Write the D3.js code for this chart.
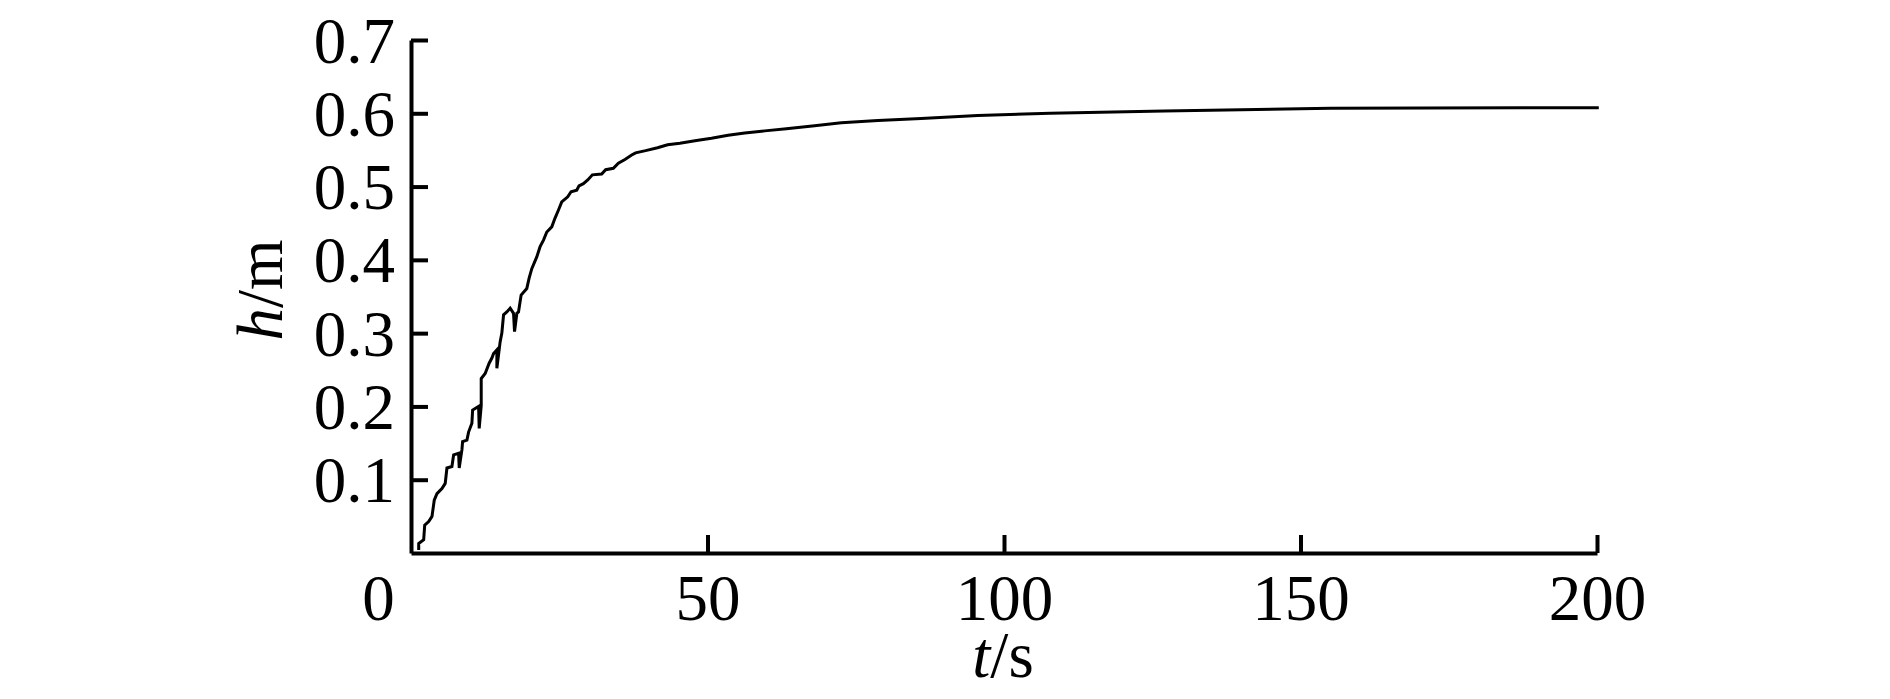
<!DOCTYPE html>
<html lang="en">
<title>h vs t</title>
<head>
<meta charset="utf-8">
</head>
<body style="margin:0;background:white;">
<script src="https://d3js.org/d3.v7.min.js"></script>

<div id="viz">
    <svg style="width:1890px;height:699px;display:block;"></svg>
</div>
<script>

    // time (s)
    var tValues = [1.30, 1.30, 2.14, 2.31, 2.98, 3.54, 3.92, 4.38, 5.22, 5.77, 6.06, 6.90, 7.19, 8.03, 8.13,
        8.59, 8.70, 9.43, 9.71, 10.27, 10.39, 11.40, 11.50, 11.84, 11.84, 12.51, 13.18, 13.64, 13.92, 14.48,
        14.48, 15.03, 15.32, 15.61, 16.16, 16.72, 17.29, 17.46, 17.85, 18.13, 18.57, 19.53, 19.92, 20.37,
        21.21, 21.77, 22.34, 22.90, 23.74, 24.29, 24.87, 25.42, 26.43, 26.99, 27.95, 28.33, 29.07, 29.80,
        30.59, 32.15, 32.83, 34.12, 34.97, 36.08, 37.21, 37.88, 39.56, 41.58, 43.27, 45.34, 48.15, 50.67,
        53.48, 56.28, 59.65, 63.30, 68.06, 72.56, 78.74, 86.03, 95.57, 107.8, 127.0, 155.1, 187.3, 200.3];

    // water level h (m)
    var hValues = [0.004, 0.013, 0.018, 0.038, 0.043, 0.050, 0.072, 0.081, 0.088, 0.095, 0.116, 0.118, 0.134, 0.136, 0.116,
        0.141, 0.152, 0.154, 0.165, 0.177, 0.195, 0.200, 0.170, 0.201, 0.238, 0.245, 0.259, 0.266, 0.272, 0.277,
        0.252, 0.288, 0.300, 0.325, 0.329, 0.334, 0.327, 0.302, 0.327, 0.329, 0.352, 0.361, 0.375, 0.388,
        0.404, 0.418, 0.427, 0.438, 0.445, 0.457, 0.468, 0.479, 0.486, 0.493, 0.495, 0.501, 0.504, 0.509,
        0.516, 0.517, 0.523, 0.525, 0.532, 0.537, 0.543, 0.546, 0.549, 0.553, 0.557, 0.559, 0.563, 0.566,
        0.570, 0.573, 0.576, 0.579, 0.583, 0.587, 0.590, 0.593, 0.597, 0.600, 0.603, 0.607, 0.6075, 0.6075];

    var xTicks = [0, 50, 100, 150, 200];
    var yTicks = [0.1, 0.2, 0.3, 0.4, 0.5, 0.6, 0.7];

    var font = "'Liberation Serif', 'Times New Roman', serif";
    var fontSize = 65;

    var x = d3.scaleLinear().domain([0, 200]).range([411, 1597]);
    var y = d3.scaleLinear().domain([0, 0.7]).range([553, 40]);

    var svg = d3.select("svg");

    var data = tValues.map(function (t, i) {
        return [t, hValues[i]];
    });

    svg.append("path")
        .datum(data)
        .attr("fill", "none")
        .attr("stroke", "black")
        .attr("stroke-width", 3)
        .attr("stroke-linejoin", "miter")
        .attr("d", d3.line().x(d => x(d[0])).y(d => y(d[1])));

    var xAxis = svg.append("g")
        .attr("transform", "translate(0," + y(0) + ")")
        .call(d3.axisBottom(x)
            .tickValues(xTicks)
            .tickFormat(d3.format("d"))
            .tickSizeInner(-18)
            .tickSizeOuter(0)
            .tickPadding(21));

    var yAxis = svg.append("g")
        .attr("transform", "translate(" + x(0) + ",0)")
        .call(d3.axisLeft(y)
            .tickValues(yTicks)
            .tickFormat(d3.format(".1f"))
            .tickSizeInner(-17)
            .tickSizeOuter(0)
            .tickPadding(16));

    [xAxis, yAxis].forEach(function (g) {
        g.select(".domain").attr("stroke", "black").attr("stroke-width", 4);
        g.selectAll(".tick line").attr("stroke", "black").attr("stroke-width", 4);
        g.selectAll(".tick text")
            .attr("fill", "black")
            .style("font-family", font)
            .style("font-size", fontSize + "px");
    });

    // the origin label sits left of the axis corner, no tick mark there
    xAxis.selectAll(".tick").filter(d => d === 0).select("line").remove();
    xAxis.selectAll(".tick").filter(d => d === 0).select("text").attr("x", -33);

    yAxis.selectAll(".tick text").attr("dy", "0.34em");

    var xTitle = svg.append("text")
        .attr("x", 1003)
        .attr("y", 677)
        .attr("text-anchor", "middle")
        .style("font-family", font)
        .style("font-size", fontSize + "px");
    xTitle.append("tspan").style("font-style", "italic").text("t");
    xTitle.append("tspan").text("/s");

    var yTitle = svg.append("text")
        .attr("transform", "translate(282,290) rotate(-90)")
        .attr("text-anchor", "middle")
        .style("font-family", font)
        .style("font-size", fontSize + "px");
    yTitle.append("tspan").style("font-style", "italic").text("h");
    yTitle.append("tspan").text("/m");

</script>
</body>
</html>
